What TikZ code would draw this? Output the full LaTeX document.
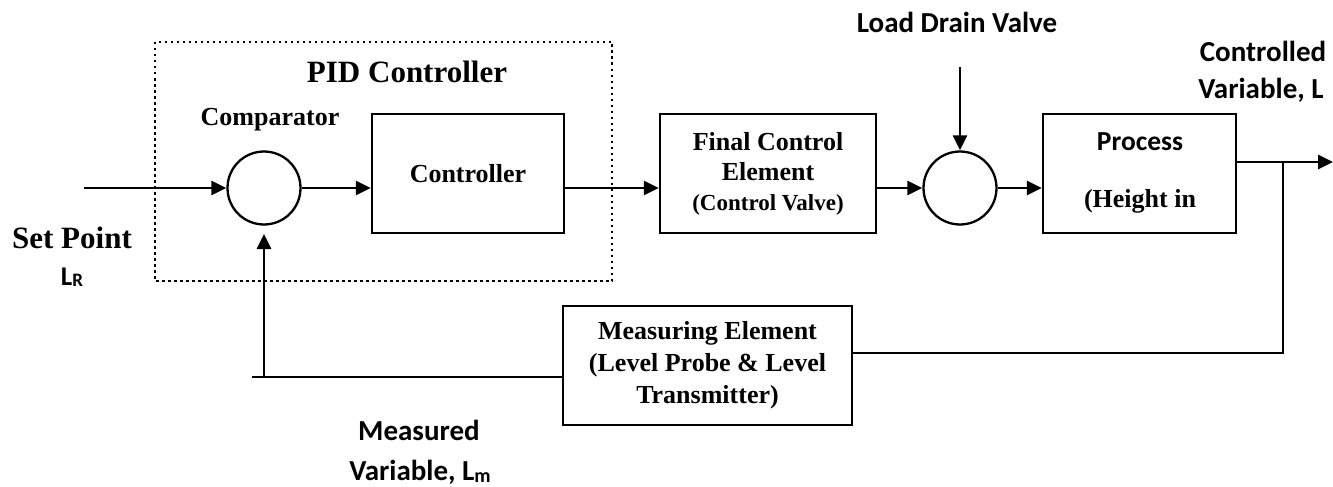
\documentclass[tikz,border=0pt]{standalone}
\usepackage{fontspec}
\setmainfont{Liberation Serif}
\newfontfamily\calfont{Carlito}
\usetikzlibrary{arrows.meta}
\begin{document}
\begin{tikzpicture}[x=1pt,y=-1pt,
  block/.style={draw, line width=2.5pt, minimum width=#1, minimum height=119pt,
    inner sep=0pt, align=center, font=\bfseries\fontsize{26}{30}\selectfont},
  sumjunction/.style={draw, circle, line width=2.3pt, minimum size=73pt, inner sep=0pt},
  wire/.style={line width=2.8pt},
  arr/.style={wire, -{Triangle[length=15pt,width=14pt]}},
  serifbig/.style={anchor=base, font=\bfseries\fontsize{31}{36}\selectfont},
  seriflabel/.style={anchor=base, font=\bfseries\fontsize{26}{30}\selectfont},
  sanslabel/.style={anchor=base, font=\calfont\bfseries\fontsize{29}{34}\selectfont},
  pidframe/.style={line width=2.6pt, dash pattern=on 2.5pt off 3.5pt}
]
\useasboundingbox (0,0) rectangle (1333,487);

% PID controller frame
\draw[pidframe] (155,42) rectangle (612,281);
\node[serifbig] (pidtitle) at (407,82) {PID Controller};
\node[seriflabel] (comptitle) at (270,125) {Comparator};

% blocks and junctions
\node[sumjunction] (comp) at (264,188) {};
\node[block=192pt] (ctrl) at (468,173.5) {Controller};
\node[block=216pt] (fce) at (768,173.5) {Final Control\\Element\\{\fontsize{23}{30}\selectfont(Control Valve)}};
\node[sumjunction] (load) at (960,188) {};
\node[block=193pt] (proc) at (1139.5,173.5) {};
\node[anchor=base, font=\calfont\bfseries\fontsize{27.5}{32}\selectfont] (proctext) at (1140,150) {Process};
\node[seriflabel] (procsub) at (1140,207) {(Height in};
\node[block=289pt, font=\bfseries\fontsize{26}{32}\selectfont] (meas) at (707.5,365.5)
  {Measuring Element\\(Level Probe \& Level\\Transmitter)};

% outside labels
\node[serifbig] (sp) at (72,248) {Set Point};
\node[anchor=base, font=\calfont\bfseries\fontsize{27}{30}\selectfont] (lr) at (72,285)
  {L\raisebox{-0.15ex}{\fontsize{19}{19}\selectfont R}};
\node[sanslabel] (ldv) at (957,33) {Load Drain Valve};
\node[sanslabel] (cv1) at (1263,62) {Controlled};
\node[sanslabel] (cv2) at (1261,99) {Variable, L};
\node[sanslabel] (mv1) at (419,440) {Measured};
\node[sanslabel] (mv2) at (420,480) {Variable, L\raisebox{-0.15ex}{\fontsize{20}{20}\selectfont m}};

% connection points
\coordinate (in) at (84,188);
\coordinate (ldtop) at (960,67);
\coordinate (pout) at (1236,162);
\coordinate (branch) at (1283,162);
\coordinate (outtip) at (1333,162);
\coordinate (fbturn) at (1283,353);
\coordinate (fbin) at (852,353);
\coordinate (mout) at (563,377);
\coordinate (stub) at (252,377);
\coordinate (riser) at (264,377);
\coordinate (risertip) at (264,234);

% forward path
\draw[arr] (in) -- (comp.west);
\draw[arr] (comp.east) -- (comp.east -| ctrl.west);
\draw[arr] (ctrl.east |- comp.east) -- (comp.east -| fce.west);
\draw[arr] (fce.east |- load.west) -- (load.west);
\draw[arr] (ldtop) -- (load.north);
\draw[arr] (load.east) -- (load.east -| proc.west);
\draw[arr] (pout) -- (outtip);

% feedback path
\draw[wire] (branch) -- (fbturn) -- (fbin);
\draw[wire] (mout) -- (stub);
\draw[arr] (riser) -- (risertip);
\end{tikzpicture}
\end{document}
